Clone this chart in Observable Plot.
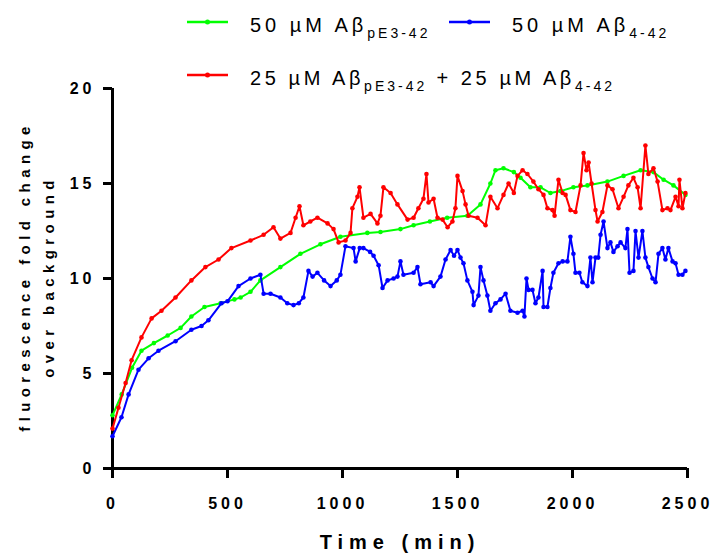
<!DOCTYPE html>
<html>
<head>
<meta charset="utf-8">
<script src="https://cdn.jsdelivr.net/npm/d3@7"></script>
<script src="https://cdn.jsdelivr.net/npm/@observablehq/plot@0.6"></script>
<style>
  html, body { margin: 0; padding: 0; background: #fff; }
  #wrap { position: relative; width: 714px; height: 556px; font-family: "Liberation Sans", Arial, sans-serif; }
  #chart { position: absolute; left: 0; top: 0; }
  .leg { position: absolute; font-size: 20px; letter-spacing: 4px; color: #000; white-space: nowrap; line-height: 1; }
  .leg sub { font-size: 14px; letter-spacing: 3px; vertical-align: -6px; }
  .leg.r2 { letter-spacing: 3.6px; }
  .sw { position: absolute; }
  .ticks text { letter-spacing: 4px; }
  .ttl text { letter-spacing: 5.4px; }
  .ttlx text { letter-spacing: 6px; }
</style>
</head>
<body>
<div id="wrap">
  <div id="chart"></div>
</div>
<script>
// ---- data ----
const seriesNames = ["50 µM AβpE3-42", "50 µM Aβ4-42", "25 µM AβpE3-42 + 25 µM Aβ4-42"];
const seriesColors = ["#00ff00", "#0000ff", "#ff0000"];

const greenT = [0,40,85,126,180,240,296,343,400,470,530,557,600,643,730,817,904,991,1108,1165,1252,1309,1380,1455,1543,1600,1643,1665,1700,1745,1774,1817,1861,1904,1948,2004,2065,2152,2222,2296,2352,2396,2439,2491];
const greenV = [2.8,3.9,5.3,6.2,6.6,7.0,7.4,8.0,8.5,8.7,8.9,9.0,9.3,9.9,10.6,11.3,11.8,12.2,12.4,12.45,12.6,12.8,13.0,13.2,13.3,13.9,15.0,15.7,15.8,15.6,15.3,14.8,14.8,14.5,14.6,14.8,14.9,15.1,15.4,15.7,15.6,15.2,14.9,14.4];

const blueT = [0,39,70,113,157,200,274,343,387,417,474,500,548,600,643,657,687,730,760,787,810,830,852,870,891,920,948,975,991,1013,1048,1057,1075,1091,1120,1135,1157,1174,1196,1222,1239,1252,1265,1309,1326,1339,1383,1396,1426,1448,1470,1485,1500,1513,1526,1543,1565,1570,1591,1600,1613,1630,1643,1665,1687,1709,1730,1761,1783,1791,1800,1809,1826,1839,1852,1870,1874,1891,1904,1917,1939,1957,1978,1991,2004,2013,2030,2043,2065,2078,2087,2100,2112,2122,2135,2152,2165,2178,2196,2209,2230,2239,2248,2265,2274,2287,2304,2317,2330,2348,2361,2374,2391,2404,2417,2435,2448,2461,2478,2491];
const blueV = [1.7,2.7,3.9,5.2,5.8,6.2,6.7,7.3,7.5,7.8,8.7,8.8,9.6,10.0,10.2,9.2,9.2,9.0,8.7,8.6,8.7,9.0,10.4,10.1,10.3,9.9,9.6,9.9,10.2,11.7,11.6,10.9,11.6,11.6,11.4,11.2,10.7,9.5,9.9,10.0,10.1,10.9,10.2,10.3,10.6,9.7,9.8,9.6,10.1,11.0,11.5,11.2,11.5,11.1,10.8,9.9,9.3,8.6,9.1,10.6,9.9,9.1,8.3,8.7,8.9,9.2,8.3,8.2,8.3,8.0,10.0,9.4,9.4,8.7,9.0,10.4,8.5,8.5,9.5,10.3,10.8,10.9,10.9,12.2,11.3,10.3,10.3,9.8,9.6,11.1,9.8,11.1,11.1,12.3,13.0,11.6,11.9,11.4,11.7,11.9,11.6,12.6,10.3,10.4,12.5,11.1,12.5,11.1,10.6,10.0,9.8,11.3,11.6,11.0,11.6,10.9,10.8,10.2,10.2,10.4];

const redT = [0,26,57,83,126,170,213,274,343,404,461,517,600,657,700,730,774,796,813,830,860,891,935,961,983,1013,1035,1043,1065,1074,1091,1122,1152,1165,1178,1209,1239,1283,1309,1330,1352,1365,1374,1396,1413,1435,1457,1478,1491,1500,1522,1535,1548,1587,1622,1643,1674,1700,1722,1745,1761,1783,1804,1830,1852,1874,1891,1913,1922,1939,1957,1970,1991,2013,2035,2048,2061,2070,2083,2100,2109,2130,2152,2174,2200,2222,2243,2265,2283,2296,2317,2330,2352,2370,2391,2413,2426,2448,2461,2465,2478,2491];
const redV = [2.1,3.2,4.5,5.7,6.9,7.9,8.3,9.0,9.9,10.6,11.0,11.6,12.0,12.3,12.7,12.1,12.4,13.2,13.8,12.8,13.0,13.2,12.9,12.6,11.9,12.0,12.4,13.7,14.3,14.8,13.2,13.4,12.9,13.3,14.8,14.5,13.9,13.1,13.2,13.7,14.2,15.5,14.0,14.2,13.2,13.1,12.7,13.0,13.7,15.4,14.6,13.9,13.3,13.2,12.8,14.3,13.7,14.4,15.0,14.5,15.4,15.7,15.5,15.1,14.7,14.4,13.7,13.6,13.3,15.2,14.5,14.4,13.6,13.5,14.9,16.6,15.7,16.1,15.0,13.6,13.0,13.5,14.9,14.7,13.7,14.3,14.9,15.3,14.8,13.7,17.0,15.5,15.8,15.1,13.6,13.7,13.6,14.3,13.8,15.2,13.7,14.5];

const xTicks = [0, 500, 1000, 1500, 2000, 2500];
const yTicks = [0, 5, 10, 15, 20];
const xLabel = "Time (min)";
const yLabel = "fluorescence fold change\nover background";

const toRows = (T, V, s) => T.map((t, i) => ({t, v: V[i], s}));
const green = toRows(greenT, greenV, seriesNames[0]);
const blue = toRows(blueT, blueV, seriesNames[1]);
const red = toRows(redT, redV, seriesNames[2]);

const colorScale = {domain: seriesNames, range: seriesColors};

const chart = Plot.plot({
  width: 714,
  height: 556,
  marginLeft: 112,
  marginRight: 27,
  marginTop: 88,
  marginBottom: 88,
  style: {fontFamily: "'Liberation Sans', Arial, sans-serif", background: "#fff", overflow: "visible"},
  x: {domain: [0, 2500]},
  y: {domain: [0, 20]},
  color: colorScale,
  marks: [
    Plot.axisX({ticks: xTicks, tickSize: 10, strokeWidth: 3, tickPadding: 19, fontSize: 16, fontWeight: "bold", label: null, className: "ticks", tickFormat: d => String(d)}),
    Plot.axisY({ticks: yTicks, tickSize: 9, strokeWidth: 3, tickPadding: 8, fontSize: 16, fontWeight: "bold", label: null, className: "ticks"}),
    Plot.ruleX([0], {strokeWidth: 3, y1: 0, y2: 20}),
    Plot.ruleY([0], {strokeWidth: 3}),
    Plot.line(green, {x: "t", y: "v", stroke: "s", strokeWidth: 2}),
    Plot.dot(green, {x: "t", y: "v", fill: "s", r: 2.3}),
    Plot.line(blue, {x: "t", y: "v", stroke: "s", strokeWidth: 2}),
    Plot.dot(blue, {x: "t", y: "v", fill: "s", r: 2.3}),
    Plot.line(red, {x: "t", y: "v", stroke: "s", strokeWidth: 2}),
    Plot.dot(red, {x: "t", y: "v", fill: "s", r: 2.3}),
    Plot.text([xLabel], {frameAnchor: "bottom", dy: 80, fontSize: 20, fontWeight: "bold", textAnchor: "middle", className: "ttlx"}),
    Plot.text([yLabel], {frameAnchor: "left", dx: -78, dy: -2, rotate: -90, textAnchor: "middle", fontSize: 15, fontWeight: "bold", lineHeight: 1.55, className: "ttl"})
  ]
});
document.getElementById("chart").appendChild(chart);

// ---- legend (HTML overlay) ----
const wrap = document.getElementById("wrap");
function swatch(color, left, top) {
  const ns = "http://www.w3.org/2000/svg";
  const s = document.createElementNS(ns, "svg");
  s.setAttribute("width", 44); s.setAttribute("height", 8);
  s.setAttribute("class", "sw");
  s.style.left = left + "px"; s.style.top = (top - 4) + "px";
  const l = document.createElementNS(ns, "line");
  l.setAttribute("x1", 1); l.setAttribute("x2", 42); l.setAttribute("y1", 4); l.setAttribute("y2", 4);
  l.setAttribute("stroke", color); l.setAttribute("stroke-width", 2.5);
  const c = document.createElementNS(ns, "circle");
  c.setAttribute("cx", 21.5); c.setAttribute("cy", 4); c.setAttribute("r", 2.5); c.setAttribute("fill", color);
  s.appendChild(l); s.appendChild(c);
  wrap.appendChild(s);
}
function label(html, left, top, cls) {
  const d = document.createElement("div");
  d.className = "leg" + (cls ? " " + cls : "");
  d.style.left = left + "px"; d.style.top = top + "px";
  d.innerHTML = html;
  wrap.appendChild(d);
}
swatch(seriesColors[0], 186, 22);
label("50 µM Aβ<sub>pE3-42</sub>", 250, 15);
swatch(seriesColors[1], 448, 22);
label("50 µM Aβ<sub>4-42</sub>", 512, 15);
swatch(seriesColors[2], 186, 75);
label("25 µM Aβ<sub>pE3-42</sub> + 25 µM Aβ<sub>4-42</sub>", 250, 68, "r2");
</script>
</body>
</html>
